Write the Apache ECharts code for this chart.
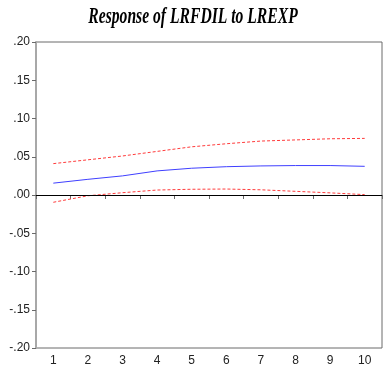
<!DOCTYPE html>
<html>
<head>
<meta charset="utf-8">
<script src="https://cdn.jsdelivr.net/npm/echarts@6/dist/echarts.min.js"></script>
<style>
  html, body { margin: 0; padding: 0; background: #fff; }
  #irfChart { width: 386px; height: 375px; }
</style>
</head>
<body>
<div id="irfChart"></div>
<script>
// periods and impulse response values
const periods = ['1', '2', '3', '4', '5', '6', '7', '8', '9', '10']
const response = [0.0155, 0.0205, 0.025, 0.0315, 0.035, 0.037, 0.038, 0.0385, 0.0385, 0.0375]
const upperBand = [0.041, 0.046, 0.051, 0.057, 0.063, 0.067, 0.0705, 0.072, 0.0735, 0.074]
const lowerBand = [-0.0095, -0.001, 0.003, 0.0065, 0.0075, 0.0078, 0.0068, 0.0048, 0.0028, 0.0005]

const chart = echarts.init(document.getElementById('irfChart'))

// eviews style labels: .05 / -.10
function fmt(v) {
  return v.toFixed(2).replace('0.', '.')
}

const dashed = {
  color: '#ff3b3b',
  width: 1,
  type: [3, 2]
}

const option = {
  animation: false,
  graphic: [
    {
      type: 'text',
      left: 'center',
      top: 6,
      scaleX: 0.68,
      style: {
        text: 'Response of LRFDIL to LREXP',
        font: 'italic bold 23px "Liberation Serif"',
        fill: '#000'
      }
    }
  ],
  grid: {
    left: 36,
    right: 4,
    top: 42,
    bottom: 27,
    show: true,
    borderColor: '#6a6a6a',
    borderWidth: 1
  },
  xAxis: {
    type: 'category',
    data: periods,
    boundaryGap: true,
    axisLine: { lineStyle: { color: '#6a6a6a', width: 1 } },
    axisTick: { show: true, length: 4, lineStyle: { color: '#6a6a6a' } },
    axisLabel: {
      color: '#222',
      fontFamily: 'Liberation Sans',
      fontSize: 12,
      margin: 7
    },
    splitLine: { show: false }
  },
  yAxis: {
    type: 'value',
    min: -0.2,
    max: 0.2,
    interval: 0.05,
    axisLine: { show: true, lineStyle: { color: '#a8a8a8', width: 2 } },
    axisTick: { show: true, length: 4, lineStyle: { color: '#6a6a6a' } },
    axisLabel: {
      color: '#222',
      fontFamily: 'Liberation Sans',
      fontSize: 12,
      margin: 6,
      formatter: fmt
    },
    splitLine: { show: false }
  },
  series: [
    {
      name: 'response',
      type: 'line',
      data: response,
      symbol: 'none',
      lineStyle: { color: '#3f3fff', width: 1 },
      markLine: {
        silent: true,
        symbol: ['none', 'none'],
        label: { show: false },
        lineStyle: { color: '#000', width: 1, type: 'solid' },
        data: [{ yAxis: 0 }]
      }
    },
    {
      name: 'upper',
      type: 'line',
      data: upperBand,
      symbol: 'none',
      lineStyle: dashed
    },
    {
      name: 'lower',
      type: 'line',
      data: lowerBand,
      symbol: 'none',
      lineStyle: dashed
    }
  ]
}

chart.setOption(option)
</script>
</body>
</html>
